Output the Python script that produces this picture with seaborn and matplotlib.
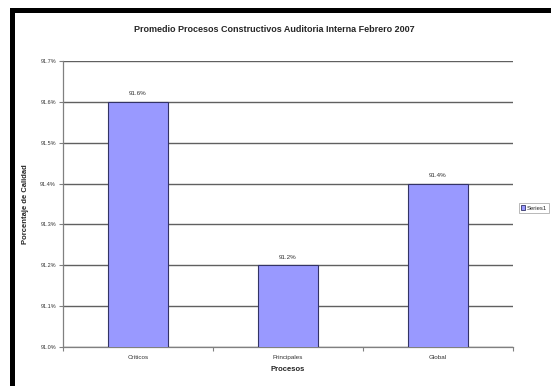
import matplotlib
matplotlib.use("Agg")
import matplotlib.pyplot as plt
import matplotlib.patches as mpatches
import seaborn as sns
import pandas as pd

categories = ["Críticos", "Principales", "Global"]
values = [91.6, 91.2, 91.4]
value_labels = ["91.6%", "91.2%", "91.4%"]
yticks = [91.0, 91.1, 91.2, 91.3, 91.4, 91.5, 91.6, 91.7]
ytick_labels = ["91.0%", "91.1%", "91.2%", "91.3%", "91.4%", "91.5%", "91.6%", "91.7%"]
title = "Promedio Procesos Constructivos Auditoria Interna Febrero 2007"
series_name = "Series1"

sns.set_theme(style="white")
plt.rcParams["font.family"] = ["Liberation Sans", "DejaVu Sans"]

df = pd.DataFrame({"Procesos": categories, "Valor": values})

fig = plt.figure(figsize=(5.51, 3.86), dpi=100)
fig.patch.set_facecolor("white")
ax = fig.add_axes([63/551, 1-347/386, 450/551, (347-61)/386])

sns.barplot(data=df, x="Procesos", y="Valor", ax=ax, color="#9999FF",
            saturation=1, width=0.4, edgecolor="#333366", linewidth=0.8, zorder=3)

ax.set_ylim(91.0, 91.7)
ax.set_xlim(-0.5, 2.5)
ax.set_yticks(yticks)
ax.set_yticklabels(ytick_labels, fontsize=4)
ax.yaxis.grid(True, color="#606060", linewidth=1.0, zorder=0)
ax.set_axisbelow(True)

for s in ["top", "right"]:
    ax.spines[s].set_visible(False)
for s in ["left", "bottom"]:
    ax.spines[s].set_color("#808080")
    ax.spines[s].set_linewidth(0.9)

ax.tick_params(axis="y", which="major", direction="out", length=3, width=0.8,
               color="#808080", pad=2, labelcolor="#333333", left=True)
ax.set_xticks([0, 1, 2])
ax.set_xticklabels(categories, fontsize=4.5, color="#333333")
ax.tick_params(axis="x", which="major", length=0, pad=6)
ax.set_xticks([-0.5, 0.5, 1.5, 2.5], minor=True)
ax.tick_params(axis="x", which="minor", direction="out", length=3, width=0.8,
               color="#808080", bottom=True)

for i, (v, lab) in enumerate(zip(values, value_labels)):
    ax.annotate(lab, (i, v), xytext=(0, 4), textcoords="offset points",
                ha="center", va="bottom", fontsize=4.5, color="#333333")

ax.set_xlabel("Procesos", fontsize=5.5, fontweight="bold", labelpad=4)
ax.set_ylabel("Porcentaje de Calidad", fontsize=5.5, fontweight="bold", labelpad=8)

fig.text(274/551, 1-29/386, title, ha="center", va="center",
         fontsize=6.5, fontweight="bold")

handle = mpatches.Patch(facecolor="#9999FF", edgecolor="#333366", linewidth=0.6)
leg = fig.legend([handle], [series_name], loc="center left",
                 bbox_to_anchor=(519/551, 1-208/386), fontsize=4.2,
                 frameon=True, handlelength=0.7, handleheight=0.7,
                 handletextpad=0.3, borderpad=0.35, borderaxespad=0.0,
                 fancybox=False)
leg.get_frame().set_edgecolor("#999999")
leg.get_frame().set_linewidth(0.6)

# black frame lines (top and left)
fig.add_artist(mpatches.Rectangle((10/551, 0), 5/551, 1-8/386, transform=fig.transFigure,
                                  facecolor="black", edgecolor="none"))
fig.add_artist(mpatches.Rectangle((10/551, 1-13/386), 1, 5/386, transform=fig.transFigure,
                                  facecolor="black", edgecolor="none"))

fig.savefig("out.png", dpi=100)
